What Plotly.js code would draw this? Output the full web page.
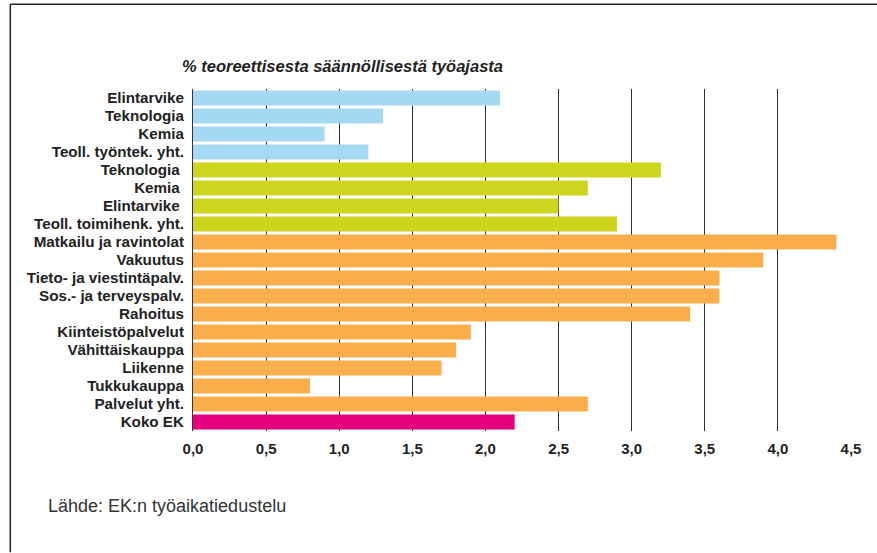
<!DOCTYPE html>
<html>
<head>
<meta charset="utf-8">
<script src="https://cdn.plot.ly/plotly-3.0.1.min.js"></script>
<style>
html,body{margin:0;padding:0;background:#fff;}
#chart{width:877px;height:553px;}
</style>
</head>
<body>
<div id="chart"></div>
<script>
var categories = ["Elintarvike","Teknologia","Kemia","Teoll. työntek. yht.",
  "Teknologia ","Kemia ","Elintarvike ","Teoll. toimihenk. yht.",
  "Matkailu ja ravintolat","Vakuutus","Tieto- ja viestintäpalv.","Sos.- ja terveyspalv.",
  "Rahoitus","Kiinteistöpalvelut","Vähittäiskauppa","Liikenne","Tukkukauppa",
  "Palvelut yht.","Koko EK"];
var values = [2.1,1.3,0.9,1.2, 3.2,2.7,2.5,2.9, 4.4,3.9,3.6,3.6,3.4,1.9,1.8,1.7,0.8,2.7, 2.2];
var groups = ["a","a","a","a","b","b","b","b","c","c","c","c","c","c","c","c","c","c","d"];
var groupColors = {a:"#a5d8f3", b:"#cdd51f", c:"#f9ad4b", d:"#e5007d"};
var xTicks = [0,0.5,1,1.5,2,2.5,3,3.5,4,4.5];
var titleText = "% teoreettisesta säännöllisestä työajasta";
var sourceText = "Lähde: EK:n työaikatiedustelu";

var W = 877, H = 553;
var mL = 192.7, mR = 26.3, mT = 88.5, mB = 121.5;
var pw = W - mL - mR, ph = H - mT - mB;
function px(x){ return (x - mL) / pw; }
function py(y){ return (H - mB - y) / ph; }

var font = "'Liberation Sans', Arial, Helvetica, sans-serif";

var trace = {
  type: "bar",
  orientation: "h",
  y: categories,
  x: values,
  marker: {color: groups.map(function(g){return groupColors[g];}), line:{width:0}},
  hoverinfo: "x+y"
};

var layout = {
  width: W, height: H,
  margin: {l: mL, r: mR, t: mT, b: mB, pad: 0},
  paper_bgcolor: "#fff",
  plot_bgcolor: "#fff",
  showlegend: false,
  bargap: 0.17,
  separators: ",.",
  xaxis: {
    range: [0, 4.5],
    tickvals: xTicks,
    tickformat: ".1f",
    showgrid: true,
    gridcolor: "#333",
    gridwidth: 1,
    zeroline: false,
    showline: false,
    ticks: "",
    tickfont: {family: font, size: 15, color: "#222", weight: "bold"},
    ticklabelstandoff: 7,
    fixedrange: true
  },
  yaxis: {
    categoryorder: "array",
    categoryarray: categories,
    autorange: "reversed",
    showgrid: false,
    zeroline: false,
    showline: true,
    linecolor: "#333",
    linewidth: 1,
    ticks: "",
    tickfont: {family: font, size: 15.2, color: "#222", weight: "bold"},
    ticklabelstandoff: 5,
    fixedrange: true
  },
  annotations: [
    {text: "<b><i>" + titleText + "</i></b>", xref: "paper", yref: "paper",
     x: px(180), y: py(65), xanchor: "left", yanchor: "middle", showarrow: false,
     font: {family: font, size: 16.5, color: "#222"}},
    {text: sourceText, xref: "paper", yref: "paper",
     x: px(46), y: py(507), xanchor: "left", yanchor: "middle", showarrow: false,
     font: {family: font, size: 18, color: "#333"}}
  ],
  shapes: [
    {type: "line", xref: "paper", yref: "paper", x0: px(10), x1: px(877), y0: py(3.5), y1: py(3.5),
     line: {color: "#222", width: 1.5}},
    {type: "line", xref: "paper", yref: "paper", x0: px(10), x1: px(10), y0: py(3.5), y1: py(553),
     line: {color: "#222", width: 1.5}}
  ]
};

Plotly.newPlot("chart", [trace], layout, {displayModeBar: false, staticPlot: true});
</script>
</body>
</html>
